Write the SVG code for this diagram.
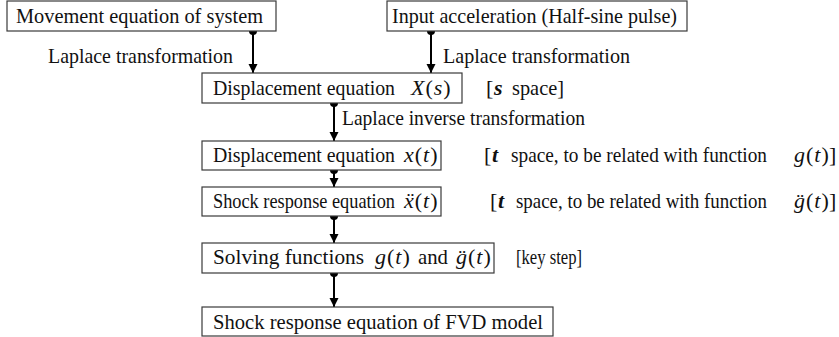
<svg xmlns="http://www.w3.org/2000/svg" width="839" height="337" viewBox="0 0 839 337">
  <style>
    .box { fill: #ffffff; stroke: #3a3a3a; stroke-width: 1.2; }
    .t { font-family: "Liberation Serif", "Times New Roman", serif; font-size: 22px; fill: #111111; }
    .m { font-family: "Liberation Serif", "Times New Roman", serif; font-size: 22px; font-style: italic; letter-spacing: 1px; fill: #111111; }
    .u { font-style: normal; }
    .b { font-family: "Liberation Serif", "Times New Roman", serif; font-size: 22px; font-weight: bold; font-style: italic; fill: #111111; }
    .wire { stroke: #000000; stroke-width: 2; fill: none; marker-end: url(#head); }
    .dot { fill: #000000; }
  </style>
  <defs>
    <marker id="head" viewBox="0 0 10 10" refX="10" refY="5" markerUnits="userSpaceOnUse" markerWidth="9" markerHeight="11" orient="auto">
      <path d="M0,0 L10,5 L0,10 z" fill="#000000"/>
    </marker>
  </defs>
  <rect width="839" height="337" fill="#ffffff"/>

  <!-- connectors: dot at source, arrowhead at target -->
  <g id="connectors">
    <line class="wire" x1="253" y1="31" x2="253" y2="73"/>
    <circle class="dot" cx="253" cy="31" r="4"/>
    <line class="wire" x1="431" y1="31" x2="431" y2="73"/>
    <circle class="dot" cx="431" cy="31" r="4"/>
    <line class="wire" x1="334" y1="103" x2="334" y2="141"/>
    <circle class="dot" cx="334" cy="103" r="4"/>
    <line class="wire" x1="334" y1="170" x2="334" y2="187"/>
    <circle class="dot" cx="334" cy="170" r="4"/>
    <line class="wire" x1="334" y1="216" x2="334" y2="243"/>
    <circle class="dot" cx="334" cy="216" r="4"/>
    <line class="wire" x1="334" y1="273" x2="334" y2="307"/>
    <circle class="dot" cx="334" cy="273" r="4"/>
    <text class="t" x="48" y="63" textLength="185" lengthAdjust="spacingAndGlyphs">Laplace transformation</text>
    <text class="t" x="443" y="63" textLength="187" lengthAdjust="spacingAndGlyphs">Laplace transformation</text>
    <text class="t" x="342" y="125" textLength="243" lengthAdjust="spacingAndGlyphs">Laplace inverse transformation</text>
  </g>

  <g id="movement">
    <rect class="box" x="7" y="1" width="269" height="30"/>
    <text class="t" x="16" y="23" textLength="247" lengthAdjust="spacingAndGlyphs">Movement equation of system</text>
  </g>

  <g id="input">
    <rect class="box" x="387" y="1" width="300" height="30"/>
    <text class="t" x="392" y="23" textLength="285" lengthAdjust="spacingAndGlyphs">Input acceleration (Half-sine pulse)</text>
  </g>

  <g id="displacement-s">
    <rect class="box" x="202" y="73" width="260" height="30"/>
    <text class="t" x="213" y="95" textLength="182" lengthAdjust="spacingAndGlyphs">Displacement equation</text>
    <text class="m" x="411" y="95">X<tspan class="u">(</tspan>s<tspan class="u">)</tspan></text>
    <text class="t" x="486" y="95">[</text>
    <text class="b" x="494" y="95">s</text>
    <text class="t" x="512" y="95" textLength="52" lengthAdjust="spacingAndGlyphs">space]</text>
  </g>

  <g id="displacement-t">
    <rect class="box" x="202" y="141" width="239" height="29"/>
    <text class="t" x="213" y="162" textLength="182" lengthAdjust="spacingAndGlyphs">Displacement equation</text>
    <text class="m" x="404" y="162">x<tspan class="u">(</tspan>t<tspan class="u">)</tspan></text>
    <text class="t" x="484" y="162">[</text>
    <text class="b" x="492" y="162">t</text>
    <text class="t" x="511" y="162" textLength="256" lengthAdjust="spacingAndGlyphs">space, to be related with function</text>
    <text class="m" x="794" y="162">g<tspan class="u">(</tspan>t<tspan class="u">)</tspan></text>
    <text class="t" x="829" y="162">]</text>
  </g>

  <g id="shock-response">
    <rect class="box" x="202" y="187" width="239" height="29"/>
    <text class="t" x="213" y="208" textLength="182" lengthAdjust="spacingAndGlyphs">Shock response equation</text>
    <text class="m" x="404" y="208">ẍ<tspan class="u">(</tspan>t<tspan class="u">)</tspan></text>
    <text class="t" x="490" y="208">[</text>
    <text class="b" x="498" y="208">t</text>
    <text class="t" x="516" y="208" textLength="251" lengthAdjust="spacingAndGlyphs">space, to be related with function</text>
    <text class="m" x="794" y="208">g̈<tspan class="u">(</tspan>t<tspan class="u">)</tspan></text>
    <text class="t" x="829" y="208">]</text>
  </g>

  <g id="solving">
    <rect class="box" x="202" y="243" width="292" height="30"/>
    <text class="t" x="213" y="264" textLength="151" lengthAdjust="spacingAndGlyphs">Solving functions</text>
    <text class="m" x="375" y="264">g<tspan class="u">(</tspan>t<tspan class="u">)</tspan></text>
    <text class="t" x="418" y="264" textLength="30" lengthAdjust="spacingAndGlyphs">and</text>
    <text class="m" x="456" y="264">g̈<tspan class="u">(</tspan>t<tspan class="u">)</tspan></text>
    <text class="t" x="516" y="264" textLength="66" lengthAdjust="spacingAndGlyphs">[key step]</text>
  </g>

  <g id="fvd-model">
    <rect class="box" x="202" y="307" width="351" height="29"/>
    <text class="t" x="213" y="329" textLength="330" lengthAdjust="spacingAndGlyphs">Shock response equation of FVD model</text>
  </g>
</svg>
